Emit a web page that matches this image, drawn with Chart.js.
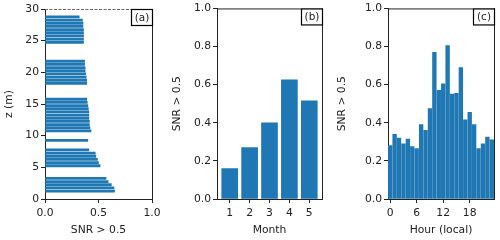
<!DOCTYPE html>
<html>
<head>
<meta charset="utf-8">
<script src="https://cdn.jsdelivr.net/npm/chart.js@4.4.0/dist/chart.umd.min.js"></script>
<style>
  html, body { margin: 0; padding: 0; background: #fff; }
  #wrap { position: relative; width: 500px; height: 240px; }
  #wrap canvas { position: absolute; top: 0; }
</style>
</head>
<body>
<div id="wrap">
  <canvas id="chartA" width="165" height="240" style="left:0"></canvas>
  <canvas id="chartB" width="165" height="240" style="left:165px"></canvas>
  <canvas id="chartC" width="170" height="240" style="left:330px"></canvas>
</div>
<script>
// (a) share of SNR > 0.5 per height (m)
const heights = [
    1.25, 1.75, 2.25, 2.75, 3.25,
    5.25, 5.75, 6.25, 6.75, 7.25, 7.75,
    9.25,
    10.75, 11.25, 11.75, 12.25, 12.75, 13.25, 13.75, 14.25, 14.75, 15.25, 15.75,
    18.25, 18.75, 19.25, 19.75, 20.25, 20.75, 21.25, 21.75,
    24.75, 25.25, 25.75, 26.25, 26.75, 27.25, 27.75, 28.25, 28.75
];
const snrByHeight = [
    0.65, 0.645, 0.62, 0.59, 0.57,
    0.515, 0.50, 0.49, 0.475, 0.47, 0.41,
    0.40,
    0.43, 0.42, 0.415, 0.415, 0.41, 0.41, 0.41, 0.405, 0.40, 0.395, 0.39,
    0.39, 0.39, 0.385, 0.38, 0.375, 0.375, 0.37, 0.37,
    0.36, 0.36, 0.36, 0.36, 0.36, 0.355, 0.355, 0.35, 0.32
];

// (b) per month
const months = [1, 2, 3, 4, 5];
const snrByMonth = [0.16, 0.27, 0.40, 0.625, 0.515];

// (c) per local hour
const hours = [0, 1, 2, 3, 4, 5, 6, 7, 8, 9, 10, 11, 12, 13, 14, 15, 16, 17, 18, 19, 20, 21, 22, 23];
const snrByHour = [0.28, 0.34, 0.32, 0.29, 0.315, 0.275, 0.265, 0.39, 0.36, 0.475, 0.77, 0.57,
                   0.605, 0.805, 0.55, 0.555, 0.69, 0.415, 0.455, 0.39, 0.265, 0.29, 0.325, 0.31];

// tick labels
const heightTicks = [0, 5, 10, 15, 20, 25, 30];
const fracTicks = [0, 0.5, 1];
const snrTicks = [0, 0.2, 0.4, 0.6, 0.8, 1];
const monthTicks = [1, 2, 3, 4, 5];
const hourTicks = [0, 6, 12, 18];

const BLUE = '#1f77b4';
const INK = '#222';
const FONT = { family: 'DejaVu Sans', size: 10.75 };

Chart.defaults.color = INK;
Chart.defaults.font = FONT;

// top/right spines + panel letter box
const framePlugin = {
    id: 'frame',
    afterDraw(chart, args, opts) {
        const { ctx, chartArea: a } = chart;
        ctx.save();
        ctx.strokeStyle = INK;
        ctx.lineWidth = 1;
        ctx.beginPath();
        ctx.moveTo(a.right + 0.5, a.bottom);
        ctx.lineTo(a.right + 0.5, a.top);
        ctx.stroke();
        if (opts.dashedTop) {
            ctx.setLineDash([3, 1.5]);
            ctx.strokeStyle = '#666';
        }
        ctx.beginPath();
        ctx.moveTo(a.left, a.top + 0.5);
        ctx.lineTo(a.right + 1, a.top + 0.5);
        ctx.stroke();
        ctx.setLineDash([]);

        // letter box
        const w = 21, h = 16;
        ctx.fillStyle = '#fff';
        ctx.fillRect(a.right - w, a.top, w, h);
        ctx.strokeStyle = '#000';
        ctx.lineWidth = 1.2;
        ctx.strokeRect(a.right - w + 0.5, a.top + 0.5, w, h);
        ctx.fillStyle = INK;
        ctx.font = '10.5px "DejaVu Sans"';
        ctx.textAlign = 'center';
        ctx.textBaseline = 'middle';
        ctx.fillText(opts.label, a.right - w / 2 + 0.5, a.top + h / 2 + 1);
        ctx.restore();
    }
};

function axisGrid() {
    return { display: true, drawOnChartArea: false, drawTicks: true, tickLength: 4, color: INK, offset: false };
}

function makeAxis(ticks, min, max, fmt, title, size, titlePad, isY) {
    return {
        type: 'linear',
        min: min,
        max: max,
        offset: false,
        grid: axisGrid(),
        border: { display: true, color: INK, width: 1 },
        ticks: { padding: isY ? 2 : 4, color: INK, font: FONT, callback: fmt, autoSkip: false, maxRotation: 0 },
        title: { display: true, text: title, color: INK, font: FONT, padding: titlePad },
        afterBuildTicks: s => { s.ticks = ticks.map(v => ({ value: v })); },
        afterFit: s => { if (isY) s.width = size; else s.height = size; }
    };
}

const oneDec = v => v.toFixed(1);
const whole = v => String(v);

// (a)
new Chart(document.getElementById('chartA'), {
    type: 'bar',
    data: {
        datasets: [{
            data: heights.map((z, i) => ({ x: snrByHeight[i], y: z })),
            backgroundColor: BLUE,
            borderWidth: 0,
            barThickness: 2.2
        }]
    },
    options: {
        indexAxis: 'y',
        responsive: false,
        animation: false,
        layout: { padding: { top: 9, right: 13, left: 0, bottom: 0 } },
        plugins: { legend: { display: false }, tooltip: { enabled: false }, frame: { label: '(a)', dashedTop: true } },
        scales: {
            x: makeAxis(fracTicks, 0, 1, oneDec, 'SNR > 0.5', 41, { top: 0, bottom: 3 }, false),
            y: makeAxis(heightTicks, 0, 30, whole, 'z (m)', 45, { top: 3, bottom: 0 }, true)
        }
    },
    plugins: [framePlugin]
});

// (b)
new Chart(document.getElementById('chartB'), {
    type: 'bar',
    data: {
        datasets: [{
            data: months.map((m, i) => ({ x: m, y: snrByMonth[i] })),
            backgroundColor: BLUE,
            borderWidth: 0,
            barThickness: 16
        }]
    },
    options: {
        responsive: false,
        animation: false,
        layout: { padding: { top: 8, right: 8, left: 0, bottom: 0 } },
        plugins: { legend: { display: false }, tooltip: { enabled: false }, frame: { label: '(b)' } },
        scales: {
            x: makeAxis(monthTicks, 0.36, 5.64, whole, 'Month', 41, { top: 0, bottom: 3 }, false),
            y: makeAxis(snrTicks, 0, 1, oneDec, 'SNR > 0.5', 52, { top: 6, bottom: 0 }, true)
        }
    },
    plugins: [framePlugin]
});

// (c)
new Chart(document.getElementById('chartC'), {
    type: 'bar',
    data: {
        datasets: [{
            data: hours.map((h, i) => ({ x: h, y: snrByHour[i] })),
            backgroundColor: BLUE,
            borderWidth: 0,
            barThickness: 3.7
        }]
    },
    options: {
        responsive: false,
        animation: false,
        layout: { padding: { top: 8, right: 6, left: 0, bottom: 0 } },
        plugins: { legend: { display: false }, tooltip: { enabled: false }, frame: { label: '(c)' } },
        scales: {
            x: makeAxis(hourTicks, -0.5, 23.5, whole, 'Hour (local)', 41, { top: 0, bottom: 3 }, false),
            y: makeAxis(snrTicks, 0, 1, oneDec, 'SNR > 0.5', 58, { top: 6, bottom: 0 }, true)
        }
    },
    plugins: [framePlugin]
});
</script>
</body>
</html>
